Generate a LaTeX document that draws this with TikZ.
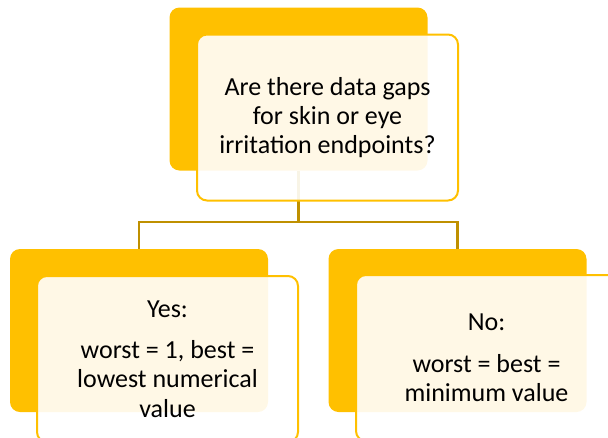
\documentclass[tikz,border=0pt]{standalone}
\usepackage{fontspec}
\setmainfont{Carlito}
\definecolor{gold}{HTML}{FFC000}
\definecolor{darkgold}{HTML}{BF9000}
\begin{document}
\begin{tikzpicture}[x=0.75pt,y=-0.75pt,
  backbox/.style={rectangle, rounded corners=10*0.75pt, fill=gold, draw=none,
    minimum width=258*0.75pt, minimum height=163*0.75pt, inner sep=0pt},
  frontbox/.style={rectangle, rounded corners=10*0.75pt, draw=gold, line width=1.5pt,
    fill=white, fill opacity=0.9, text opacity=1, text=black,
    minimum width=261*0.75pt, minimum height=166*0.75pt, inner sep=0pt,
    align=center, font=\fontsize{19.5}{22}\selectfont},
  link/.style={draw=darkgold, line width=1.6pt}]
\useasboundingbox (0,0) rectangle (608,437);
\clip (0,0) rectangle (608,437);

% back (solid gold) boxes
\node[backbox] (qback) at (298.5,89) {};
\node[backbox] (yback) at (139,330.5) {};
\node[backbox] (nback) at (457.5,330.5) {};

% tree connectors
\coordinate (split) at (298.5,222);
\draw[link] (qback.south) -- (split);
\draw[link] (split) -| (yback.north);
\draw[link] (split) -| (nback.north);

% front (translucent) boxes with the texts
\node[frontbox] (q) at (327.5,117.5) {Are there data gaps\\for skin or eye\\irritation endpoints?};
\node[frontbox] (yes) at (167.5,359) {Yes:\\[9pt]worst = 1, best =\\lowest numerical\\value};
\node[frontbox] (no) at (486.5,358) {No:\\[9pt]worst = best =\\minimum value};
\end{tikzpicture}
\end{document}
